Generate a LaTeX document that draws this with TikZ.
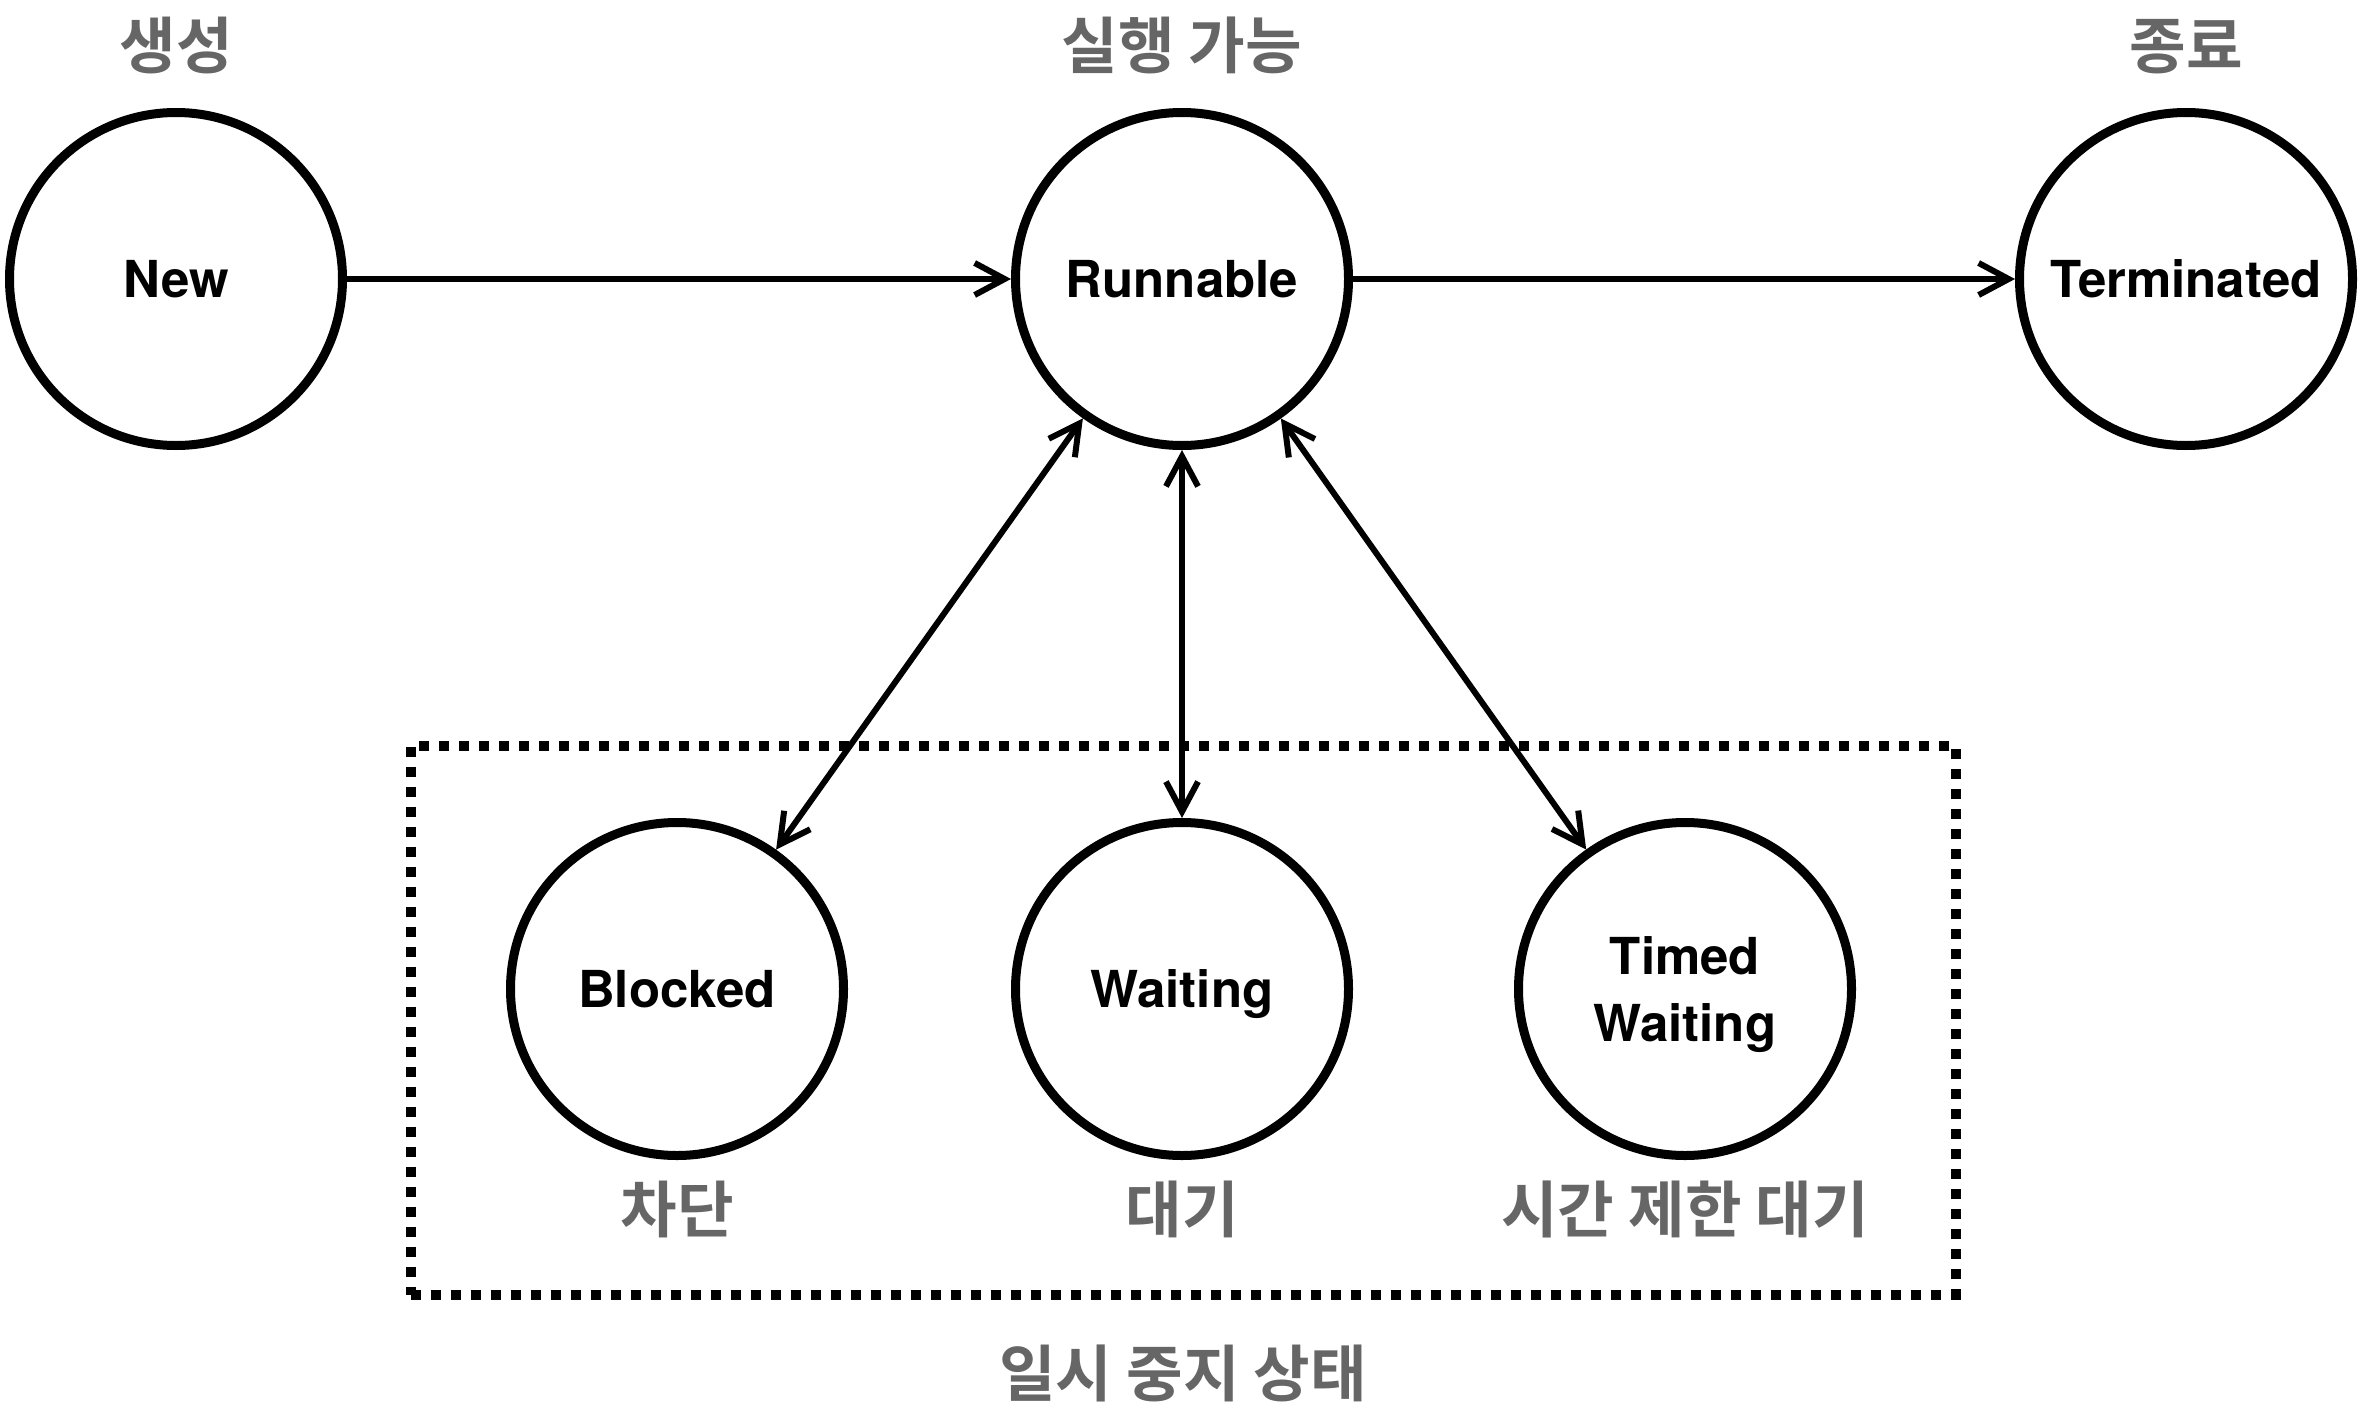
\documentclass[tikz,border=0pt]{standalone}
\usepackage{fontspec}
\setmainfont{TeX Gyre Heros}
\newfontfamily\krfont{Noto Sans CJK KR}[BoldFont={Noto Sans CJK KR Bold}]
\usepackage{tikz}
\usetikzlibrary{positioning,shapes,arrows.meta}
\definecolor{labelgray}{HTML}{666666}

\begin{document}
\begin{tikzpicture}[node distance=2cm]
	\tikzstyle{state}=[circle, draw=black, line width=0.09cm, fill=white, minimum size=3.33cm,
	inner sep=0pt, align=center, text depth=0pt, font=\bfseries\fontsize{14.5}{19}\selectfont, text=black]
	\tikzstyle{caption}=[inner sep=0pt, text=labelgray, font=\krfont\bfseries\fontsize{17.5}{20}\selectfont]
	\tikzstyle{pausebox}=[rectangle, draw=black, line width=0.1cm, dash pattern=on 0.1cm off 0.1cm]
	\tikzstyle{oneway}=[-{Straight Barb[length=0.3cm,width=0.32cm]}, line width=0.06cm]
	\tikzstyle{twoway}=[{Straight Barb[length=0.3cm,width=0.32cm]}-{Straight Barb[length=0.3cm,width=0.32cm]}, line width=0.06cm]
	\useasboundingbox (0,0) rectangle (23.64,-14.26);
	\node (pause) [pausebox, minimum width=15.45cm, minimum height=5.49cm] at (11.83,-10.20) {};
	\node (New) [state] at (1.76,-2.79) {New};
	\node (Runnable) [state] at (11.82,-2.79) {Runnable};
	\node (Terminated) [state] at (21.86,-2.79) {Terminated};
	\node (Blocked) [state] at (6.77,-9.89) {Blocked};
	\node (Waiting) [state] at (11.82,-9.89) {Waiting};
	\node (Timed) [state] at (16.85,-9.89) {Timed\\Waiting};
	
	\node (newlabel) [caption, above=0.33cm of New] {생성};
	\node (runlabel) [caption, above=0.33cm of Runnable] {실행 가능};
	\node (endlabel) [caption, above=0.33cm of Terminated] {종료};
	\node (blocklabel) [caption, below=0.2cm of Blocked] {차단};
	\node (waitlabel) [caption, below=0.2cm of Waiting] {대기};
	\node (timedlabel) [caption, below=0.2cm of Timed] {시간 제한 대기};
	\node (pauselabel) [caption, below=0.45cm of pause] {일시 중지 상태};
	
	\draw[oneway] (New) -- (Runnable);
	\draw[oneway] (Runnable) -- (Terminated);
	\draw[twoway] (Runnable) -- (Blocked);
	\draw[twoway] (Runnable) -- (Waiting);
	\draw[twoway] (Runnable) -- (Timed);
\end{tikzpicture}
\end{document}
